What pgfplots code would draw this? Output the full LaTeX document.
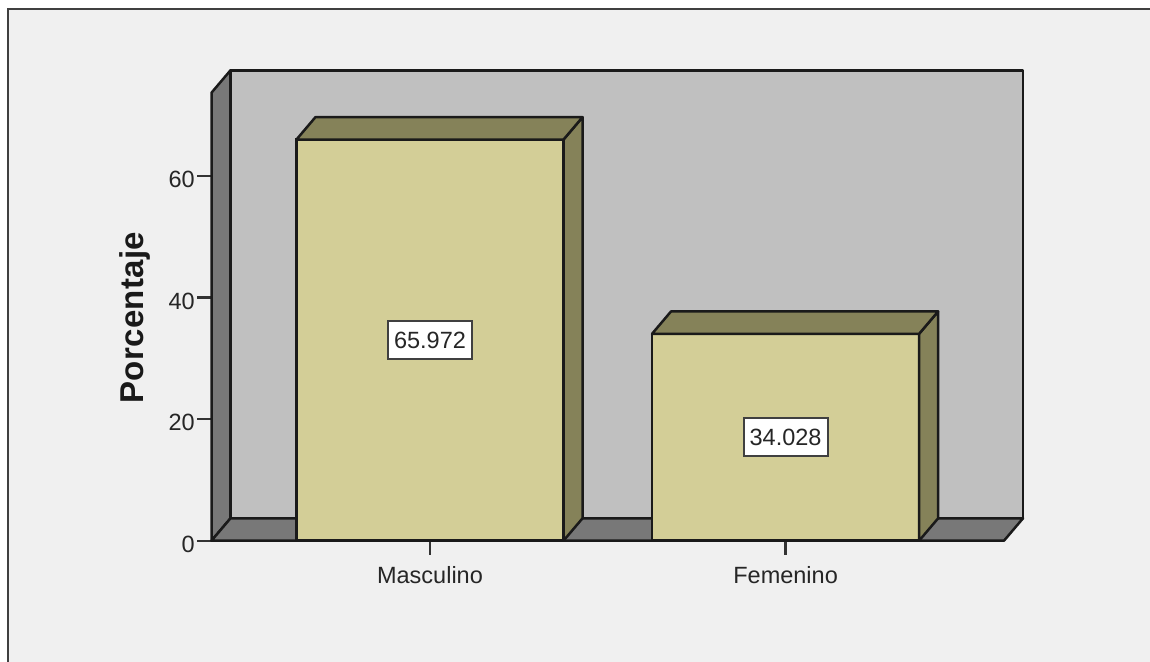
\documentclass[border=0pt]{standalone}
\usepackage{fontspec}
\setmainfont{Liberation Sans}
\usepackage{pgfplots}
\pgfplotsset{compat=1.18}
\definecolor{bgc}{HTML}{F0F0F0}
\definecolor{wallc}{HTML}{C0C0C0}
\definecolor{sidec}{HTML}{787878}
\definecolor{barc}{HTML}{D3CE97}
\definecolor{bardk}{HTML}{858259}
\definecolor{linec}{HTML}{1A1A1A}
\begin{document}
\begin{tikzpicture}[x=1pt,y=1pt]
\path[use as bounding box] (0,0) rectangle (1150,661);
\fill[white] (0,0) rectangle (1150,661);
\fill[bgc] (8,-5) rectangle (1155,651.5);
\draw[line width=2pt,color=black!75] (8,-5) -- (8,651.5) -- (1155,651.5);
\begin{axis}[
  at={(211.5pt,120.3pt)},anchor=south west,
  scale only axis,width=792.5pt,height=448pt,
  xmin=-0.6144,xmax=1.6142,ymin=0,ymax=73.68,
  clip=false,
  axis line style={draw=none},
  axis x line*=bottom,axis y line*=left,
  xtick={0,1},xticklabels={Masculino,Femenino},
  ytick={0,20,40,60},
  tick align=outside,
  major tick length=14pt,
  tick style={line width=2.2pt,color=black!80},
  /pgf/number format/assume math mode=true,
  tick label style={font=\fontsize{23.5}{28}\selectfont,color=black!85},
  yticklabel style={inner sep=0pt,xshift=-2.5pt,yshift=-3.5pt},
  xticklabel style={inner sep=0pt,yshift=-12pt},
  ylabel={Porcentaje},
  every axis y label/.style={at={(axis description cs:-0.0966,0.498)},rotate=90,anchor=center},
  ylabel style={font=\fontsize{33}{38}\selectfont\bfseries\addfontfeatures{LetterSpace=1},color=black!90},
]
% back wall
\addplot[fill=wallc,draw=linec,line width=2.5pt,line join=round,mark=none] coordinates {(-0.5610,3.68) (1.6676,3.68) (1.6676,77.36) (-0.5610,77.36)} --cycle;
% left wall
\addplot[fill=sidec,draw=linec,line width=2.5pt,line join=round,mark=none] coordinates {(-0.6144,0) (-0.5610,3.68) (-0.5610,77.36) (-0.6144,73.68)} --cycle;
% floor
\addplot[fill=sidec,draw=linec,line width=2.5pt,line join=round,mark=none] coordinates {(-0.6144,0) (1.6142,0) (1.6676,3.68) (-0.5610,3.68)} --cycle;
% bar fronts
\addplot[ybar,bar width=267pt,fill=barc,draw=linec,line width=2.5pt,mark=none] coordinates {(0,65.972) (1,34.028)};
% bar sides
\addplot[fill=bardk,draw=linec,line width=2.5pt,line join=round,mark=none] coordinates {(0.3755,0) (0.4289,3.68) (0.4289,69.652) (0.3755,65.972)} --cycle;
\addplot[fill=bardk,draw=linec,line width=2.5pt,line join=round,mark=none] coordinates {(1.3755,0) (1.4289,3.68) (1.4289,37.708) (1.3755,34.028)} --cycle;
% bar tops
\addplot[fill=bardk,draw=linec,line width=2.5pt,line join=round,mark=none] coordinates {(-0.3755,65.972) (0.3755,65.972) (0.4289,69.652) (-0.3222,69.652)} --cycle;
\addplot[fill=bardk,draw=linec,line width=2.5pt,line join=round,mark=none] coordinates {(0.6245,34.028) (1.3755,34.028) (1.4289,37.708) (0.6778,37.708)} --cycle;
% value labels
\addplot[only marks,mark=none,
  nodes near coords,point meta=explicit symbolic,
  nodes near coords align={center},
  every node near coord/.style={fill=white,draw=black!75,line width=2pt,
    font=\fontsize{23.5}{28}\selectfont,text=black!85,
    minimum width=84pt,minimum height=38pt,inner sep=0pt,anchor=center}]
  table[meta=lab] {
x y lab
0 32.986 65.972
1 17.014 34.028
};
\end{axis}
\end{tikzpicture}
\end{document}
